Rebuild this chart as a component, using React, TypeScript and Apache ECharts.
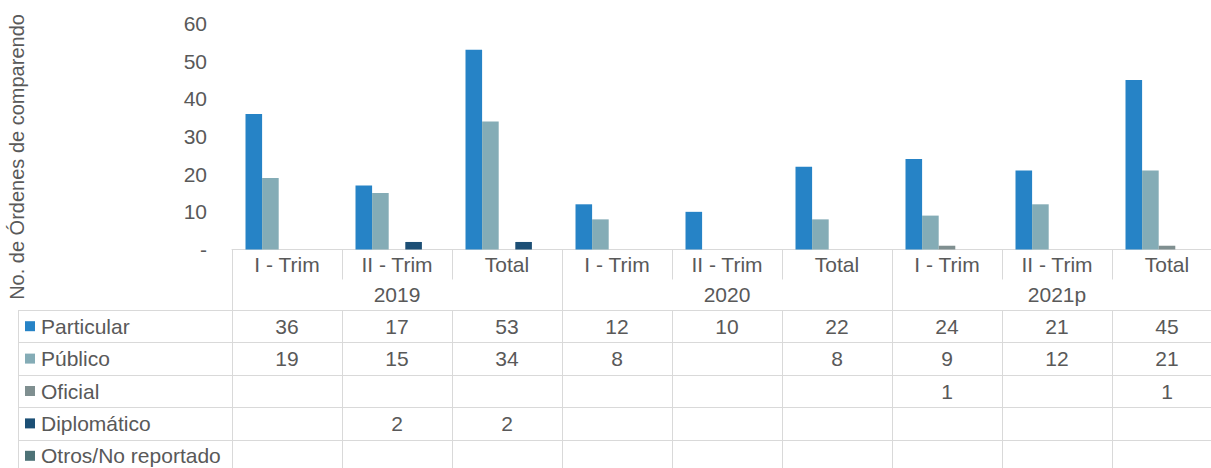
import React, { useEffect, useRef } from "react";
import * as echarts from "echarts";

const periods = ["I - Trim", "II - Trim", "Total", "I - Trim", "II - Trim", "Total", "I - Trim", "II - Trim", "Total"];
const years = ["2019", "2020", "2021p"];
const periodsPerYear = 3;
const seriesNames = ["Particular", "Público", "Oficial", "Diplomático", "Otros/No reportado"];
const particular = [36, 17, 53, 12, 10, 22, 24, 21, 45];
const publico = [19, 15, 34, 8, null, 8, 9, 12, 21];
const oficial = [null, null, null, null, null, null, 1, null, 1];
const diplomatico = [null, 2, 2, null, null, null, null, null, null];
const otros = [null, null, null, null, null, null, null, null, null];
const seriesData = [particular, publico, oficial, diplomatico, otros];
const colors = ["#2683C6", "#84ACB6", "#7F8F90", "#1C4F75", "#4D7276"];
const yTicks = { min: 0, max: 60, interval: 10 };
const yTitle = "No. de Órdenes de comparendo";

const FONT = "'Liberation Sans', Arial, sans-serif";
const TXT = "#595959";
const LINE = "#D9D9D9";
const CHART_W = 1222;

export default function App() {
  const ref = useRef<HTMLDivElement>(null);
  useEffect(() => {
    if (!ref.current) return;
    const chart = echarts.init(ref.current, null, { renderer: "svg" });
    const gridLeft = 232, gridTop = 23.5, gridHeight = 226;
    const option: any = {
      animation: false,
      textStyle: { fontFamily: FONT },
      grid: { left: gridLeft, top: gridTop, right: 0, height: gridHeight },
      xAxis: {
        type: "category",
        data: periods,
        axisLine: { lineStyle: { color: LINE, width: 1 } },
        axisTick: { show: true, alignWithLabel: false, length: 30, lineStyle: { color: LINE } },
        axisLabel: { color: TXT, fontSize: 21, fontFamily: FONT, margin: 4, lineHeight: 22, interval: 0 },
      },
      yAxis: {
        type: "value",
        min: yTicks.min,
        max: yTicks.max,
        interval: yTicks.interval,
        axisLine: { show: false },
        axisTick: { show: false },
        splitLine: { show: false },
        axisLabel: {
          color: TXT,
          fontSize: 21,
          fontFamily: FONT,
          margin: 25,
          formatter: (v: number) => (v === 0 ? "-" : String(v)),
        },
      },
      series: seriesNames.map((name, i) => ({
        name,
        type: "bar",
        data: seriesData[i],
        barWidth: 16.6,
        barGap: "0%",
        itemStyle: { color: colors[i] },
      })),
    };
    chart.setOption(option);

    const x0 = chart.convertToPixel({ xAxisIndex: 0 }, 0) as number;
    const x1 = chart.convertToPixel({ xAxisIndex: 0 }, 1) as number;
    const colW = x1 - x0;
    const left = x0 - colW / 2;
    const axisY = chart.convertToPixel({ yAxisIndex: 0 }, 0) as number;
    const yearRowTop = axisY + 30;
    const tableTop = 310;
    const rowH = 32.4;
    const tableLeft = 18;
    const bottom = 480;
    const els: any[] = [];
    const line = (xa: number, ya: number, xb: number, yb: number) =>
      els.push({ type: "line", silent: true, shape: { x1: xa, y1: ya, x2: xb, y2: yb }, style: { stroke: LINE, lineWidth: 1 } });

    years.forEach((y, k) => {
      const xs = left + k * periodsPerYear * colW;
      els.push({
        type: "text",
        x: xs + (periodsPerYear * colW) / 2,
        y: (yearRowTop + tableTop) / 2,
        style: { text: y, fill: TXT, font: `21px ${FONT}`, align: "center", verticalAlign: "middle" },
      });
    });
    for (let i = 0; i <= periods.length; i++) {
      const xs = Math.round(left + i * colW) + 0.5;
      if (i % periodsPerYear === 0) line(xs, axisY, xs, bottom);
      else line(xs, tableTop, xs, bottom);
    }
    line(tableLeft + 0.5, tableTop, tableLeft + 0.5, bottom);
    for (let r = 0; r <= seriesNames.length; r++) {
      const yy = Math.round(tableTop + r * rowH) + 0.5;
      line(tableLeft, yy, CHART_W, yy);
    }
    seriesNames.forEach((name, r) => {
      const cy = tableTop + r * rowH + rowH / 2;
      els.push({ type: "rect", shape: { x: 25, y: cy - 5, width: 10, height: 10 }, style: { fill: colors[r] } });
      els.push({
        type: "text",
        x: 41,
        y: cy,
        style: { text: name, fill: TXT, font: `21px ${FONT}`, align: "left", verticalAlign: "middle" },
      });
      seriesData[r].forEach((v, i) => {
        if (v === null || v === undefined) return;
        els.push({
          type: "text",
          x: left + i * colW + colW / 2,
          y: cy,
          style: { text: String(v), fill: TXT, font: `21px ${FONT}`, align: "center", verticalAlign: "middle" },
        });
      });
    });
    els.push({
      type: "text",
      x: 17,
      y: 157,
      rotation: Math.PI / 2,
      style: { text: yTitle, fill: TXT, font: `20px ${FONT}`, align: "center", verticalAlign: "middle" },
    });
    chart.setOption({ graphic: { elements: els } });
    return () => chart.dispose();
  }, []);
  return (
    <div style={{ position: "absolute", left: 0, top: 0, width: 1211, height: 468, overflow: "hidden" }}>
      <div ref={ref} style={{ width: CHART_W, height: 468 }} />
    </div>
  );
}
